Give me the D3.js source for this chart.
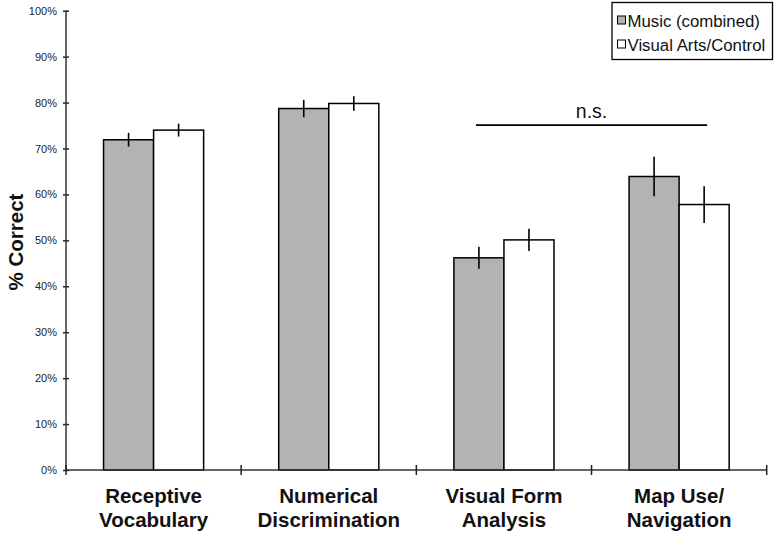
<!DOCTYPE html>
<html>
<head>
<meta charset="utf-8">
<script src="https://cdn.jsdelivr.net/npm/d3@7"></script>
<style>
  html, body { margin: 0; padding: 0; background: #fff; }
  svg { display: block; font-family: "Liberation Sans", Arial, Helvetica, sans-serif; }
</style>
</head>
<body>
<svg id="chart" width="777" height="535"></svg>
<script>
// ---- data ----
const categories = ["Receptive Vocabulary", "Numerical Discrimination", "Visual Form Analysis", "Map Use/ Navigation"];
const categoryLines = [["Receptive", "Vocabulary"], ["Numerical", "Discrimination"], ["Visual Form", "Analysis"], ["Map Use/", "Navigation"]];
const seriesNames = ["Music (combined)", "Visual Arts/Control"];
const musicValues = [0.719, 0.787, 0.462, 0.639];
const musicErrors = [0.015, 0.019, 0.024, 0.043];
const controlValues = [0.740, 0.798, 0.501, 0.578];
const controlErrors = [0.014, 0.016, 0.024, 0.040];
const yTicks = [0, 0.1, 0.2, 0.3, 0.4, 0.5, 0.6, 0.7, 0.8, 0.9, 1.0];
const yTitle = "% Correct";
const nsLabel = "n.s.";
const nsLevel = 0.751;
const nsFrom = { category: "Visual Form Analysis", series: "Music (combined)" };
const nsTo = { category: "Map Use/ Navigation", series: "Visual Arts/Control" };

const colors = { "Music (combined)": "#b3b3b3", "Visual Arts/Control": "#ffffff" };

// ---- layout ----
const svg = d3.select("#chart");
const y = d3.scaleLinear().domain([0, 1]).range([470, 10.7]);
const x0 = d3.scaleBand().domain(categories).range([66, 766.7]).paddingInner(0).paddingOuter(0);
const x1 = d3.scaleBand().domain(seriesNames).range([0, x0.bandwidth()]).paddingInner(0).paddingOuter(0.75);

const seriesData = [
  { name: seriesNames[0], values: musicValues, errors: musicErrors },
  { name: seriesNames[1], values: controlValues, errors: controlErrors }
];
const rows = [];
categories.forEach((c, i) => {
  seriesData.forEach(s => rows.push({ category: c, series: s.name, value: s.values[i], err: s.errors[i] }));
});

// bars
svg.append("g").selectAll("rect").data(rows).join("rect")
  .attr("x", d => x0(d.category) + x1(d.series))
  .attr("y", d => y(d.value))
  .attr("width", x1.bandwidth())
  .attr("height", d => y(0) - y(d.value))
  .attr("fill", d => colors[d.series])
  .attr("stroke", "#000")
  .attr("stroke-width", 1.5);

// error bars
svg.append("g").selectAll("line").data(rows).join("line")
  .attr("x1", d => x0(d.category) + x1(d.series) + x1.bandwidth() / 2)
  .attr("x2", d => x0(d.category) + x1(d.series) + x1.bandwidth() / 2)
  .attr("y1", d => y(d.value + d.err))
  .attr("y2", d => y(d.value - d.err))
  .attr("stroke", "#000")
  .attr("stroke-width", 1.6);

// y axis
const yAxis = d3.axisLeft(y).tickValues(yTicks).tickFormat(d3.format(".0%")).tickSize(3).tickPadding(6);
const yg = svg.append("g").attr("transform", "translate(66,0)").call(yAxis);
yg.select(".domain").remove();
yg.selectAll(".tick line").attr("x1", 3).attr("x2", -3).attr("stroke", "#222").attr("stroke-width", 1.5);
yg.selectAll(".tick text").attr("x", -9).attr("font-size", 11).attr("fill", "#222")
  .attr("font-family", "'Liberation Sans', Arial, Helvetica, sans-serif");
svg.append("line").attr("x1", 66).attr("x2", 66).attr("y1", y(0)).attr("y2", y(1))
  .attr("stroke", "#333").attr("stroke-width", 1.5);

// x axis
svg.append("line").attr("x1", x0.range()[0]).attr("x2", x0.range()[1]).attr("y1", y(0)).attr("y2", y(0))
  .attr("stroke", "#333").attr("stroke-width", 1.5);
const xTickPos = categories.map(c => x0(c)).concat([x0.range()[1]]);
svg.append("g").selectAll("line").data(xTickPos).join("line")
  .attr("x1", d => d).attr("x2", d => d)
  .attr("y1", y(0) - 5).attr("y2", y(0) + 5)
  .attr("stroke", "#222").attr("stroke-width", 1.5);

// category labels
const labG = svg.append("g").selectAll("text").data(categories).join("text")
  .attr("text-anchor", "middle")
  .attr("font-size", 20.5)
  .attr("font-weight", "bold")
  .attr("fill", "#111");
labG.each(function (c, i) {
  const t = d3.select(this);
  const cx = x0(c) + x0.bandwidth() / 2;
  categoryLines[i].forEach((ln, j) => {
    t.append("tspan").attr("x", cx).attr("y", 502.5 + j * 24.4).text(ln);
  });
});

// y title
svg.append("text")
  .attr("transform", "translate(23,242) rotate(-90)")
  .attr("text-anchor", "middle")
  .attr("font-size", 20.5)
  .attr("font-weight", "bold")
  .attr("fill", "#111")
  .text(yTitle);

// n.s. annotation
const nsX1 = x0(nsFrom.category) + x1(nsFrom.series) + x1.bandwidth() / 2 - 3;
const nsX2 = x0(nsTo.category) + x1(nsTo.series) + x1.bandwidth() / 2 + 3;
svg.append("line").attr("x1", nsX1).attr("x2", nsX2).attr("y1", y(nsLevel)).attr("y2", y(nsLevel))
  .attr("stroke", "#000").attr("stroke-width", 1.8);
svg.append("text").attr("x", (nsX1 + nsX2) / 2).attr("y", y(nsLevel) - 7)
  .attr("text-anchor", "middle").attr("font-size", 19.5).attr("fill", "#111").text(nsLabel);

// legend
const lg = svg.append("g");
lg.append("rect").attr("x", 612).attr("y", 2.5).attr("width", 160.5).attr("height", 57)
  .attr("fill", "#fff").attr("stroke", "#000").attr("stroke-width", 1.3);
seriesNames.forEach((s, i) => {
  const yy = 16.5 + i * 24;
  lg.append("rect").attr("x", 617.5).attr("y", yy - 0.5).attr("width", 8).attr("height", 8)
    .attr("fill", colors[s]).attr("stroke", "#000").attr("stroke-width", 1);
  lg.append("text").attr("x", 627.5).attr("y", yy + 10.5).attr("font-size", 16.8).attr("fill", "#111").text(s);
});
</script>
</body>
</html>
